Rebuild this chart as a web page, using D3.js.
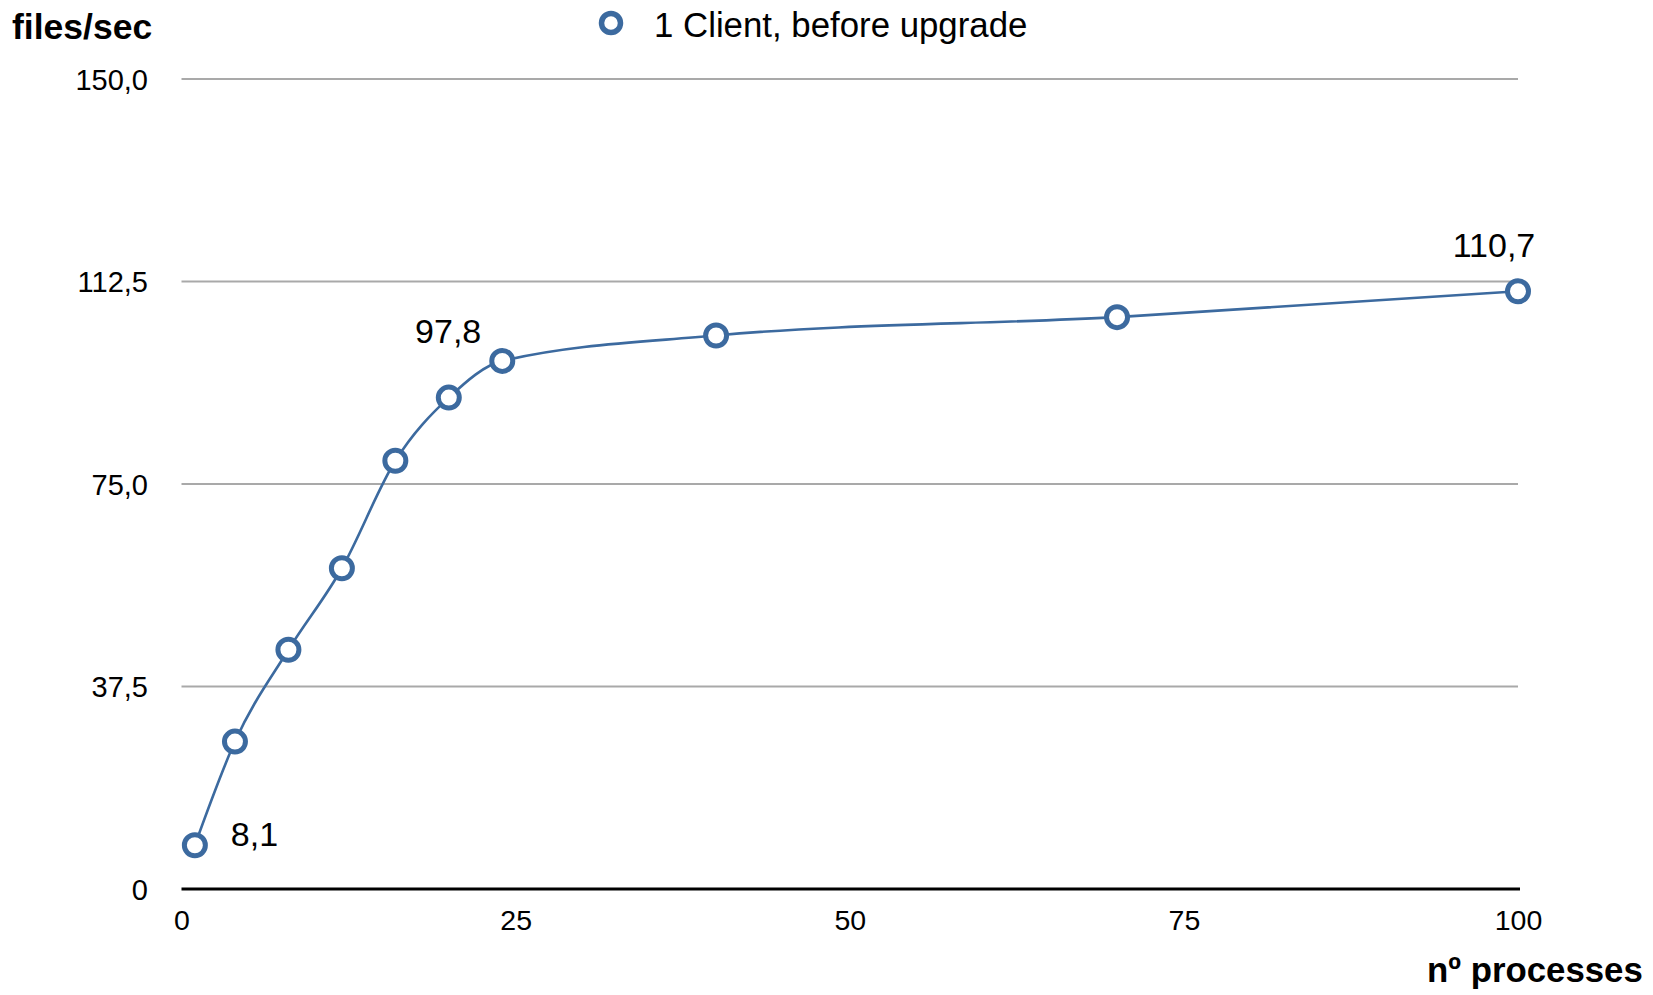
<!DOCTYPE html>
<html>
<head>
<meta charset="utf-8">
<script src="https://cdn.jsdelivr.net/npm/d3@7"></script>
<style>
  html, body { margin: 0; padding: 0; background: #ffffff; }
  svg { display: block; }
  text { font-family: "Liberation Sans", Arial, Helvetica, sans-serif; fill: #000; }
</style>
</head>
<body>
<svg id="chart" width="1653" height="995"></svg>
<script>
// Throughput measurements: number of processes vs files/sec
const processes = [1, 4, 8, 12, 16, 20, 24, 40, 70, 100];
const filesPerSec = [8.1, 27.3, 44.3, 59.4, 79.3, 91.0, 97.8, 102.5, 105.9, 110.7];
const seriesName = "1 Client, before upgrade";

// Axis ticks
const yTicks = [0, 37.5, 75, 112.5, 150];
const yTickLabels = ["0", "37,5", "75,0", "112,5", "150,0"];
const xTicks = [0, 25, 50, 75, 100];
const xTickLabels = ["0", "25", "50", "75", "100"];

// Points that carry a value label (index into the series) and how the label sits
const labelledPoints = [0, 6, 9];
const labelPlacement = [
  { dx: 36, dy: 1, anchor: "start" },
  { dx: -21, dy: -18, anchor: "end" },
  { dx: -24, dy: -34, anchor: "middle" }
];

const fmt = v => v.toFixed(1).replace(".", ",");

const svg = d3.select("#chart");
const blue = "#3c6a9f";

const x = d3.scaleLinear().domain([0, 100]).range([181.5, 1518]);
const y = d3.scaleLinear().domain([0, 150]).range([889, 79]);

// Horizontal gridlines (all but the baseline)
svg.append("g")
  .selectAll("line")
  .data(yTicks.filter(t => t > 0))
  .join("line")
  .attr("x1", x(0)).attr("x2", x(100))
  .attr("y1", d => y(d)).attr("y2", d => y(d))
  .attr("stroke", "#a9a9a9").attr("stroke-width", 2.2);

// Baseline
svg.append("line")
  .attr("x1", x(0)).attr("x2", x(100) + 2)
  .attr("y1", y(0)).attr("y2", y(0))
  .attr("stroke", "#000").attr("stroke-width", 3);

// Y axis labels
const yAxis = d3.axisLeft(y)
  .tickValues(yTicks)
  .tickFormat((d, i) => yTickLabels[i])
  .tickSize(0)
  .tickPadding(0);
const gy = svg.append("g").attr("transform", "translate(148,0)").call(yAxis);
gy.select(".domain").remove();
gy.selectAll("text")
  .attr("font-size", 29)
  .attr("font-family", "Liberation Sans, Arial, sans-serif")
  .attr("fill", "#000")
  .attr("dy", "0.36em");

// X axis labels
const xAxis = d3.axisBottom(x)
  .tickValues(xTicks)
  .tickFormat((d, i) => xTickLabels[i])
  .tickSize(0)
  .tickPadding(0);
const gx = svg.append("g").attr("transform", "translate(0,910)").call(xAxis);
gx.select(".domain").remove();
gx.selectAll("text")
  .attr("font-size", 28.5)
  .attr("font-family", "Liberation Sans, Arial, sans-serif")
  .attr("fill", "#000")
  .attr("dy", "0.71em");

// Axis titles
svg.append("text")
  .attr("x", 12).attr("y", 39)
  .attr("font-size", 35.5).attr("font-weight", "bold")
  .text("files/sec");
svg.append("text")
  .attr("x", 1427).attr("y", 982)
  .attr("font-size", 34.8).attr("font-weight", "bold")
  .text("n\u00BA processes");

// Legend
svg.append("circle")
  .attr("cx", 611).attr("cy", 23).attr("r", 9.5)
  .attr("fill", "#fff").attr("stroke", blue).attr("stroke-width", 5.5);
svg.append("text")
  .attr("x", 654).attr("y", 37)
  .attr("font-size", 34.8).attr("fill", "#222")
  .text(seriesName);

// Series line
const pts = processes.map((p, i) => [p, filesPerSec[i]]);
const line = d3.line()
  .x(d => x(d[0]))
  .y(d => y(d[1]))
  .curve(d3.curveMonotoneX);
svg.append("path")
  .datum(pts)
  .attr("d", line)
  .attr("fill", "none")
  .attr("stroke", blue)
  .attr("stroke-width", 2.6);

// Markers
svg.append("g")
  .selectAll("circle")
  .data(pts)
  .join("circle")
  .attr("cx", d => x(d[0]))
  .attr("cy", d => y(d[1]))
  .attr("r", 10.5)
  .attr("fill", "#fff")
  .attr("stroke", blue)
  .attr("stroke-width", 5);

// Value labels
svg.append("g")
  .selectAll("text")
  .data(labelledPoints)
  .join("text")
  .attr("x", (d, i) => x(processes[d]) + labelPlacement[i].dx)
  .attr("y", (d, i) => y(filesPerSec[d]) + labelPlacement[i].dy)
  .attr("text-anchor", (d, i) => labelPlacement[i].anchor)
  .attr("font-size", 34)
  .attr("fill", "#111")
  .text(d => fmt(filesPerSec[d]));
</script>
</body>
</html>
